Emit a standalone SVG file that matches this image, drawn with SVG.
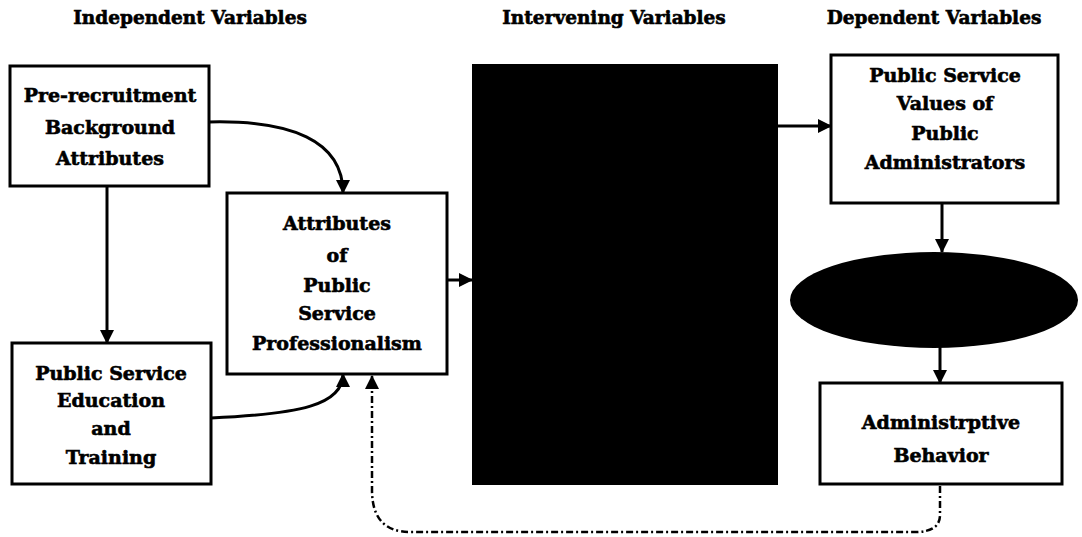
<svg xmlns="http://www.w3.org/2000/svg" width="1082" height="537" viewBox="0 0 1082 537">
<style>
.t{font-family:"DejaVu Serif","Liberation Serif",serif;font-weight:bold;font-size:19px;fill:#000;stroke:#000;stroke-width:0.6;text-anchor:middle}
.h{font-size:18.5px}
.box{fill:#fff;stroke:#000;stroke-width:3}
.c{fill:none;stroke:#000;stroke-width:3}
.d{fill:none;stroke:#000;stroke-width:2.5;stroke-dasharray:7 3 2 3}
</style>
<defs>
<marker id="ah" markerUnits="userSpaceOnUse" markerWidth="14" markerHeight="14" viewBox="0 0 14 14" refX="13" refY="7" orient="auto">
<path d="M0,0 L14,7 L0,14 Z" fill="#000"/>
</marker>
</defs>
<rect width="1082" height="537" fill="#fff"/>
<g id="headings">
<text class="t h" x="190" y="24">Independent Variables</text>
<text class="t h" x="614" y="24">Intervening Variables</text>
<text class="t h" x="934" y="24">Dependent Variables</text>
</g>
<g id="connectors">
<path class="c" d="M107,186 L107,343" marker-end="url(#ah)"/>
<path class="c" d="M209,122 C290,120 343,140 343,193" marker-end="url(#ah)"/>
<path class="c" d="M211,418 C300,414 343,405 343,374" marker-end="url(#ah)"/>
<path class="c" d="M447,280 L472,280" marker-end="url(#ah)"/>
<path class="c" d="M778,126 L831,126" marker-end="url(#ah)"/>
<path class="c" d="M942,203 L942,252" marker-end="url(#ah)"/>
<path class="c" d="M940,347 L940,383" marker-end="url(#ah)"/>
<path class="d" d="M940,486 L940,515 Q940,532 915,532 L410,532 Q372,532 372,490 L372,376" marker-end="url(#ah)"/>
</g>
<g id="pre-recruitment">
<rect class="box" x="10" y="66" width="199" height="120"/>
<text class="t" x="110" y="102">Pre-recruitment</text>
<text class="t" x="110" y="134">Background</text>
<text class="t" x="110" y="165">Attributes</text>
</g>
<g id="education">
<rect class="box" x="12" y="343" width="199" height="141"/>
<text class="t" x="111" y="380">Public Service</text>
<text class="t" x="111" y="407">Education</text>
<text class="t" x="111" y="435">and</text>
<text class="t" x="111" y="464">Training</text>
</g>
<g id="professionalism">
<rect class="box" x="227" y="193" width="220" height="181"/>
<text class="t" x="337" y="230">Attributes</text>
<text class="t" x="337" y="262">of</text>
<text class="t" x="337" y="292">Public</text>
<text class="t" x="337" y="320">Service</text>
<text class="t" x="337" y="350">Professionalism</text>
</g>
<g id="intervening">
<rect x="472" y="64" width="306" height="421" fill="#000"/>
</g>
<g id="values">
<rect class="box" x="831" y="55" width="227" height="148"/>
<text class="t" x="945" y="82">Public Service</text>
<text class="t" x="945" y="110">Values of</text>
<text class="t" x="945" y="140">Public</text>
<text class="t" x="945" y="169">Administrators</text>
</g>
<g id="ellipse">
<ellipse cx="934" cy="300" rx="144" ry="48" fill="#000"/>
</g>
<g id="behavior">
<rect class="box" x="820" y="383" width="242" height="101"/>
<text class="t" x="941" y="429">Administrptive</text>
<text class="t" x="941" y="462">Behavior</text>
</g>
</svg>
